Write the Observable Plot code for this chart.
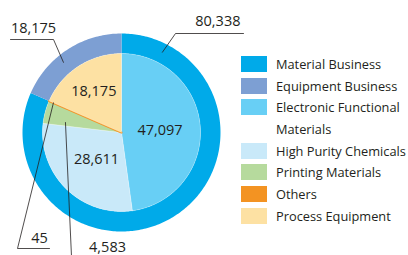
<!DOCTYPE html>
<html><head><meta charset="utf-8">
<script src="https://cdn.jsdelivr.net/npm/d3@7"></script>
<script src="https://cdn.jsdelivr.net/npm/@observablehq/plot@0.6"></script>
<style>
body{margin:0;background:#fff;}
#wrap{position:relative;width:408px;height:255px;font-family:"Open Sans",sans-serif;}
#legend{position:absolute;left:241px;top:53px;}
.row{display:flex;align-items:center;height:21.7px;font-size:12.8px;color:#231f20;white-space:nowrap;}
.sw{width:26px;height:16px;margin-right:9px;flex:none;}
</style></head><body><div id="wrap"><div id="chart"></div><div id="legend"></div></div>
<script>
// ---- data ----
const outerLabels = ["Material Business", "Equipment Business"];
const outerValues = [80338, 18175];
const outerColors = ["#00aae9", "#7d9fd3"];
const innerLabels = ["Electronic Functional Materials", "High Purity Chemicals", "Printing Materials", "Others", "Process Equipment"];
const innerValues = [47097, 28611, 4583, 45, 18175];
const innerColors = ["#68cff5", "#c9e9f9", "#b6da9d", "#f39322", "#fde1a3"];
const legendLabels = ["Material Business", "Equipment Business", "Electronic Functional\nMaterials", "High Purity Chemicals", "Printing Materials", "Others", "Process Equipment"];
const legendColors = [...outerColors, ...innerColors];

// ---- layout ----
const W = 408, H = 255, cx = 121, cy = 132, R = 99;
const rInner = 79 / R, rOuter = 1;
const X = px => (px - cx) / R, Y = py => (cy - py) / R;
const fmt = d3.format(",");

function slices(values) {
  const total = d3.sum(values);
  let acc = 0;
  return values.map((v, i) => {
    const a0 = acc / total * 360; acc += v;
    const a1 = acc / total * 360;
    return {i, v, a0, a1, mid: (a0 + a1) / 2};
  });
}
const polar = (deg, r) => ({x: r * Math.sin(deg * Math.PI / 180), y: r * Math.cos(deg * Math.PI / 180)});
function arcPoly(a0, a1, r0, r1) {
  const n = Math.max(2, Math.ceil((a1 - a0) / 1));
  const pts = [];
  for (let k = 0; k <= n; k++) pts.push(polar(a0 + (a1 - a0) * k / n, r1));
  if (r0 === 0) pts.push({x: 0, y: 0});
  else for (let k = n; k >= 0; k--) pts.push(polar(a0 + (a1 - a0) * k / n, r0));
  pts.push(pts[0]);
  return pts;
}

const outer = slices(outerValues);
const inner = slices(innerValues);

const marks = [];
outer.forEach((s, i) => {
  marks.push(Plot.line(arcPoly(s.a0, s.a1, rInner, rOuter), {x: "x", y: "y", fill: outerColors[i], stroke: "none"}));
});
inner.forEach((s, i) => {
  const isTiny = s.a1 - s.a0 < 1;
  marks.push(Plot.line(arcPoly(s.a0, s.a1, 0, rInner), {x: "x", y: "y", fill: innerColors[i],
    stroke: isTiny ? innerColors[i] : "#ffffff", strokeWidth: isTiny ? 2 : 0.4, strokeOpacity: isTiny ? 1 : 0.6}));
});

// inner labels (inside slices)
const innerLabelR = {0: 0.39, 1: 0.36, 4: 0.51};
const innerText = inner.filter(s => innerLabelR[s.i] != null).map(s => ({...polar(s.mid, innerLabelR[s.i]), t: fmt(innerValues[s.i])}));
marks.push(Plot.text(innerText, {x: "x", y: "y", text: "t", fontSize: 14.5, fill: "#231f20", fontFamily: "Open Sans", dy: 1}));

// outer annotations with leader lines
const ann = [
  {t: fmt(outerValues[0]), anchor: polar(27, 0.91), elbow: [175, 33], end: [243, 33], tx: 240, ty: 21, ta: "end"},
  {t: fmt(outerValues[1]), anchor: polar(320.4, 0.92), elbow: [53, 39], end: [10, 39], tx: 33, ty: 28, ta: "middle"},
  {t: fmt(innerValues[3]), anchor: polar(inner[3].mid, 0.75), elbow: [17, 248], end: [49, 248], tx: 39, ty: 238, ta: "middle"},
  {t: fmt(innerValues[2]), anchor: polar(280.1, 0.575), elbow: [71, 256], end: [71, 256], tx: 107, ty: 247, ta: "middle"}
];
ann.forEach(a => {
  marks.push(Plot.line([a.anchor, {x: X(a.elbow[0]), y: Y(a.elbow[1])}, {x: X(a.end[0]), y: Y(a.end[1])}],
    {x: "x", y: "y", stroke: "#231f20", strokeWidth: 0.8}));
});
marks.push(...["start", "middle", "end"].map(ta => Plot.text(ann.filter(a => a.ta === ta),
  {x: a => X(a.tx), y: a => Y(a.ty), text: "t", textAnchor: ta, fontSize: 14.5, fill: "#231f20", fontFamily: "Open Sans"})));

const chart = Plot.plot({
  width: W, height: H, margin: 0,
  x: {domain: [X(0), X(W)], axis: null},
  y: {domain: [Y(H), Y(0)], axis: null},
  marks
});
document.getElementById("chart").appendChild(chart);

const lg = document.getElementById("legend");
legendLabels.forEach((l, i) => {
  l.split("\n").forEach((part, j) => {
    const row = document.createElement("div"); row.className = "row";
    const sw = document.createElement("div"); sw.className = "sw";
    if (j === 0) sw.style.background = legendColors[i];
    row.appendChild(sw);
    row.appendChild(document.createTextNode(part));
    lg.appendChild(row);
  });
});
</script></body></html>
